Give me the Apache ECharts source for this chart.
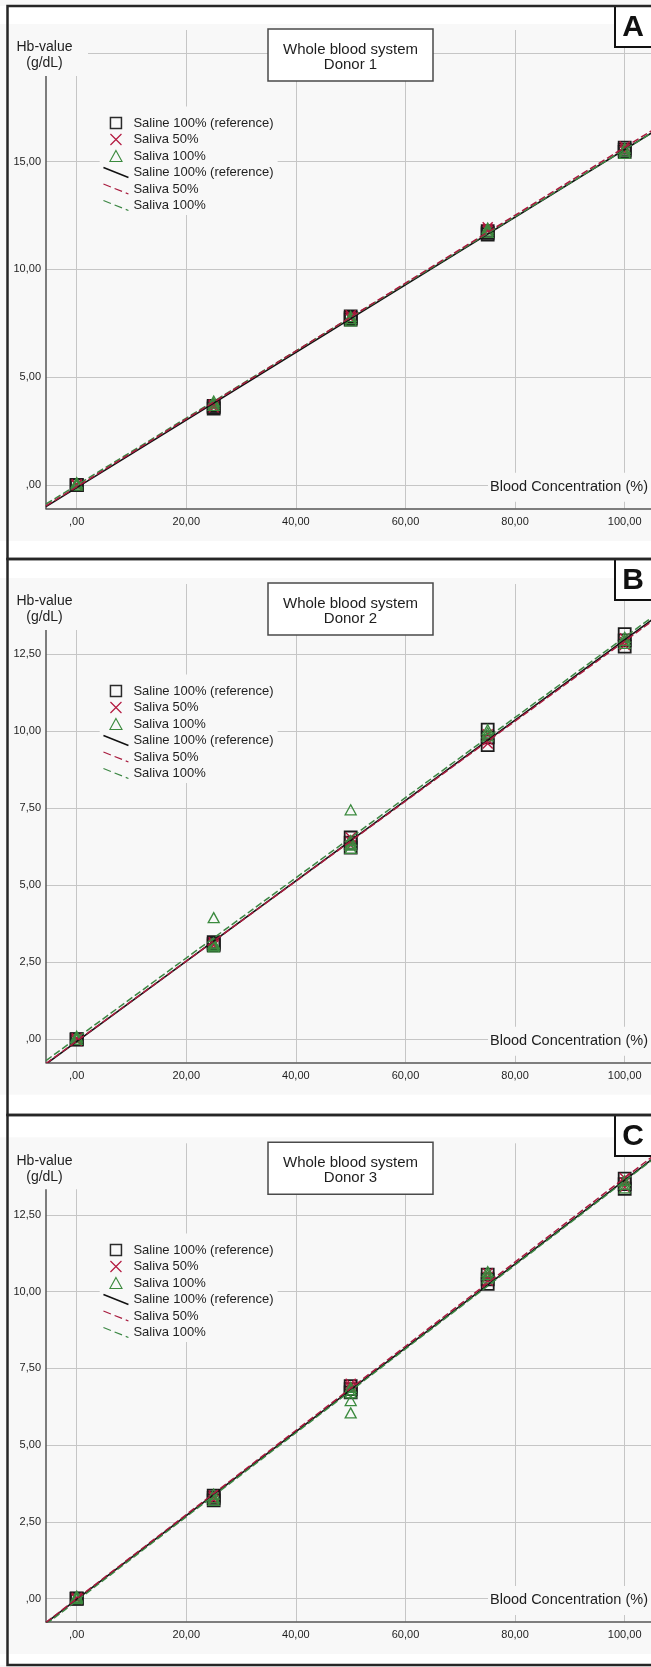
<!DOCTYPE html>
<html>
<head>
<meta charset="utf-8">
<script src="https://cdn.jsdelivr.net/npm/echarts@6/dist/echarts.min.js"></script>
<style>
html,body{margin:0;padding:0;background:#fff;}
#c{width:651px;height:1667px;}
</style>
</head>
<body>
<div id="c"></div>
<script>
// ---------------- DATA ----------------
const concentrations = [0, 25, 50, 75, 100];
const seriesNames = ['Saline 100% (reference)', 'Saliva 50%', 'Saliva 100%'];
const panelTitles = ['Whole blood system\nDonor 1', 'Whole blood system\nDonor 2', 'Whole blood system\nDonor 3'];
const panelLetters = ['A', 'B', 'C'];
const xAxisTitle = 'Blood Concentration (%)';
const yAxisTitle = ['Hb-value', '(g/dL)'];

// replicate Hb values (g/dL) for each concentration
const donor1Saline    = [[0, 0, 0], [3.55, 3.62, 3.68], [7.68, 7.75, 7.82], [11.62, 11.7, 11.78], [15.45, 15.55, 15.65]];
const donor1Saliva50  = [[0, 0.02, 0.04], [3.6, 3.68, 3.74], [7.72, 7.8, 7.88], [11.8, 11.88, 11.96], [15.48, 15.58, 15.7]];
const donor1Saliva100 = [[0, 0.06, 0.12], [3.7, 3.8, 3.9], [7.62, 7.72, 7.82], [11.72, 11.82, 11.92], [15.38, 15.5, 15.62]];

const donor2Saline    = [[0, 0, 0], [3.05, 3.1, 3.15], [6.22, 6.38, 6.55], [9.55, 9.8, 10.05], [12.75, 12.95, 13.15]];
const donor2Saliva50  = [[-0.05, 0, 0.03], [3.05, 3.1, 3.15], [6.3, 6.42, 6.55], [9.6, 9.72, 9.9], [12.8, 12.9, 13.02]];
const donor2Saliva100 = [[0, 0.05, 0.1], [3.0, 3.05, 3.1, 3.12, 3.95], [6.2, 6.3, 6.35, 6.45, 7.45], [9.85, 9.95, 10.05], [12.85, 12.95, 13.05]];

const donor3Saline    = [[0, 0, 0], [3.2, 3.28, 3.35], [6.72, 6.82, 6.92], [10.25, 10.4, 10.55], [13.35, 13.5, 13.68]];
const donor3Saliva50  = [[-0.02, 0, 0.03], [3.22, 3.3, 3.36], [6.85, 6.92, 7.0], [10.35, 10.48, 10.6], [13.4, 13.55, 13.7]];
const donor3Saliva100 = [[0, 0.04, 0.08], [3.2, 3.28, 3.4], [6.05, 6.45, 6.7, 6.8, 6.88], [10.45, 10.55, 10.65], [13.38, 13.5, 13.62]];

// axis ticks
const xTickValues = [0, 20, 40, 60, 80, 100];
const xTickLabels = [',00', '20,00', '40,00', '60,00', '80,00', '100,00'];
const yGridValuesA = [0, 5, 10, 15, 20];
const yTickValuesA = [0, 5, 10, 15];
const yTickLabelsA = [',00', '5,00', '10,00', '15,00'];
const yGridValuesBC = [0, 2.5, 5, 7.5, 10, 12.5];
const yTickValuesBC = [0, 2.5, 5, 7.5, 10, 12.5];
const yTickLabelsBC = [',00', '2,50', '5,00', '7,50', '10,00', '12,50'];

// ---------------- LAYOUT / STYLE ----------------
const FONT = '"Liberation Sans", Arial, Helvetica, sans-serif';
const BG = '#f8f8f8';
const GRIDC = '#c6c6c6';
const AXISC = '#555555';
const TXT = '#1e1e1e';
const X_MIN = -5.6, X_MAX = 106;
const PX_PER_X = 5.48;
const GRID_LEFT = 46;
const markerColors = ['#1c1c1c', '#b3183f', '#3b8a3e'];
const lineColors = ['#111111', '#a81b3e', '#3c8744'];
const SQ_PATH = 'path://M0,0L11,0L11,11L0,11Z';
const X_PATH = 'path://M0,0L10,10M0,10L10,0';
const TRI_PATH = 'path://M5.5,0L11,10L0,10Z';
const LINE_ICON = 'path://M0,0L25,10';

const panels = [
  { data: [donor1Saline, donor1Saliva50, donor1Saliva100], yMin: -1.08, yMax: 21.1,
    yGrid: yGridValuesA, yTicks: yTickValuesA, yLabels: yTickLabelsA,
    borderTop: 6, borderBottom: 559, gridTop: 30, gridBottom: 508.5, y0: 485.3, legendRow1: 123 },
  { data: [donor2Saline, donor2Saliva50, donor2Saliva100], yMin: -0.747, yMax: 14.78,
    yGrid: yGridValuesBC, yTicks: yTickValuesBC, yLabels: yTickLabelsBC,
    borderTop: 559, borderBottom: 1115, gridTop: 584, gridBottom: 1062.3, y0: 1039.3, legendRow1: 691 },
  { data: [donor3Saline, donor3Saliva50, donor3Saliva100], yMin: -0.749, yMax: 14.83,
    yGrid: yGridValuesBC, yTicks: yTickValuesBC, yLabels: yTickLabelsBC,
    borderTop: 1115, borderBottom: 1665, gridTop: 1143.3, gridBottom: 1621.6, y0: 1598.6, legendRow1: 1250 }
];

function labelFor(values, labels) {
  return function (v) {
    for (let i = 0; i < values.length; i++) if (Math.abs(values[i] - v) < 1e-9) return labels[i];
    return '';
  };
}
function toPoints(groups) {
  const pts = [];
  groups.forEach((reps, i) => reps.forEach(v => pts.push([concentrations[i], v])));
  return pts;
}
function linearFit(pts) {
  const n = pts.length;
  let sx = 0, sy = 0, sxx = 0, sxy = 0;
  pts.forEach(p => { sx += p[0]; sy += p[1]; sxx += p[0] * p[0]; sxy += p[0] * p[1]; });
  const b = (n * sxy - sx * sy) / (n * sxx - sx * sx);
  const a = (sy - b * sx) / n;
  return { a, b };
}

const grids = [], xAxes = [], yAxes = [], series = [], legends = [], graphics = [];

panels.forEach((p, pi) => {
  grids.push({ left: GRID_LEFT, top: p.gridTop, width: (X_MAX - X_MIN) * PX_PER_X,
    height: p.gridBottom - p.gridTop, outerBoundsMode: 'none', containLabel: false });
  xAxes.push({
    gridIndex: pi, type: 'value', min: X_MIN, max: X_MAX,
    axisLine: { show: true, onZero: false, lineStyle: { color: AXISC, width: 1.5 } },
    axisTick: { show: false, customValues: xTickValues },
    axisLabel: { customValues: xTickValues, formatter: labelFor(xTickValues, xTickLabels), margin: 8,
      fontSize: 11, color: TXT, fontFamily: FONT },
    splitLine: { show: true, lineStyle: { color: GRIDC, width: 1 } }
  });
  yAxes.push({
    gridIndex: pi, type: 'value', min: p.yMin, max: p.yMax,
    axisLine: { show: true, onZero: false, lineStyle: { color: AXISC, width: 1.5 } },
    axisTick: { show: false, customValues: p.yGrid },
    axisLabel: { customValues: p.yTicks, formatter: labelFor(p.yTicks, p.yLabels), margin: 5,
      fontSize: 11, color: TXT, fontFamily: FONT },
    splitLine: { show: true, lineStyle: { color: GRIDC, width: 1 } }
  });

  const symbols = ['rect', X_PATH, TRI_PATH];
  const sizes = [12, 10, [11, 10]];
  const bws = [1.8, 1.4, 1.3];
  p.data.forEach((groups, si) => {
    series.push({
      type: 'scatter', name: seriesNames[si], xAxisIndex: pi, yAxisIndex: pi,
      data: toPoints(groups), symbol: symbols[si], symbolSize: sizes[si], z: 3 + si,
      itemStyle: { color: 'rgba(0,0,0,0)', borderColor: markerColors[si], borderWidth: bws[si], opacity: 1 },
      silent: true
    });
  });
  const lineOrder = [0, 2, 1];
  lineOrder.forEach((si, k) => {
    const fit = linearFit(toPoints(p.data[si]));
    series.push({
      type: 'line', name: 'fit:' + seriesNames[si], xAxisIndex: pi, yAxisIndex: pi,
      data: [[X_MIN, fit.a + fit.b * X_MIN], [X_MAX, fit.a + fit.b * X_MAX]],
      showSymbol: false, symbol: 'none', clip: true, z: 10 + k, silent: true,
      lineStyle: { color: lineColors[si], width: si === 0 ? 1.6 : 1.5, type: si === 0 ? 'solid' : [7, 3] }
    });
  });

  const padT = 10, padB = 3, padL = 3, padR = 4;
  legends.push({
    orient: 'vertical', left: 102.7 - padL, top: p.legendRow1 - 6.5 - padT,
    padding: [padT, padR, padB, padL], backgroundColor: BG,
    itemWidth: 25, itemHeight: 11, itemGap: 3.5, z: 20, selectedMode: false, symbolKeepAspect: true,
    textStyle: { fontFamily: FONT, fontSize: 13, color: TXT, lineHeight: 13 },
    formatter: n => n.replace(/^fit:/, ''),
    data: [
      { name: seriesNames[0], icon: SQ_PATH, itemStyle: { color: 'rgba(0,0,0,0)', borderColor: '#2a2a2a', borderWidth: 1.5 } },
      { name: seriesNames[1], icon: X_PATH, itemStyle: { color: 'rgba(0,0,0,0)', borderColor: markerColors[1], borderWidth: 1.2 } },
      { name: seriesNames[2], icon: TRI_PATH, itemStyle: { color: 'rgba(0,0,0,0)', borderColor: markerColors[2], borderWidth: 1.1 } },
      { name: 'fit:' + seriesNames[0], icon: LINE_ICON, itemStyle: { color: 'rgba(0,0,0,0)', borderColor: lineColors[0], borderWidth: 1.5 } },
      { name: 'fit:' + seriesNames[1], icon: LINE_ICON, itemStyle: { color: 'rgba(0,0,0,0)', borderColor: lineColors[1], borderWidth: 1.2, borderType: [8, 4] } },
      { name: 'fit:' + seriesNames[2], icon: LINE_ICON, itemStyle: { color: 'rgba(0,0,0,0)', borderColor: lineColors[2], borderWidth: 1.2, borderType: [8, 4] } }
    ]
  });

  // decorations
  const gt = p.gridTop;
  graphics.push({ type: 'rect', z: 1, silent: true, shape: { x: 0, y: p.borderTop, width: 651, height: gt - 6 - p.borderTop }, style: { fill: '#ffffff' } });
  graphics.push({ type: 'rect', z: 1, silent: true, shape: { x: 0, y: p.gridBottom + 32.5, width: 651, height: p.borderBottom - p.gridBottom - 32.5 }, style: { fill: '#ffffff' } });
  // y axis title
  graphics.push({ type: 'rect', z: 30, silent: true, shape: { x: 9, y: gt - 3, width: 79, height: 49 }, style: { fill: BG } });
  graphics.push({ type: 'text', z: 31, silent: true, x: 44.5, y: gt + 17.5, style: { text: yAxisTitle[0], fontFamily: FONT, fontSize: 14, fill: TXT, align: 'center', verticalAlign: 'middle' } });
  graphics.push({ type: 'text', z: 31, silent: true, x: 44.5, y: gt + 33.5, style: { text: yAxisTitle[1], fontFamily: FONT, fontSize: 14, fill: TXT, align: 'center', verticalAlign: 'middle' } });
  // x axis title
  graphics.push({ type: 'rect', z: 30, silent: true, shape: { x: 488, y: p.y0 - 12.5, width: 170, height: 29 }, style: { fill: BG } });
  graphics.push({ type: 'text', z: 31, silent: true, x: 648, y: p.y0 + 1.2, style: { text: xAxisTitle, fontFamily: FONT, fontSize: 14.5, fill: TXT, align: 'right', verticalAlign: 'middle' } });
  // title box
  const tl = panelTitles[pi].split('\n');
  graphics.push({ type: 'rect', z: 40, silent: true, shape: { x: 268, y: gt - 1, width: 165, height: 52 }, style: { fill: '#ffffff', stroke: '#4a4a4a', lineWidth: 1.5 } });
  graphics.push({ type: 'text', z: 41, silent: true, x: 350.5, y: gt + 20, style: { text: tl[0], fontFamily: FONT, fontSize: 15, fill: TXT, align: 'center', verticalAlign: 'middle' } });
  graphics.push({ type: 'text', z: 41, silent: true, x: 350.5, y: gt + 34.5, style: { text: tl[1], fontFamily: FONT, fontSize: 15, fill: TXT, align: 'center', verticalAlign: 'middle' } });
  // panel letter box
  graphics.push({ type: 'rect', z: 50, silent: true, shape: { x: 615, y: p.borderTop, width: 60, height: 41 }, style: { fill: '#ffffff', stroke: '#111111', lineWidth: 2 } });
  graphics.push({ type: 'text', z: 51, silent: true, x: 633, y: p.borderTop + 21.5, style: { text: panelLetters[pi], fontFamily: FONT, fontSize: 30, fontWeight: 'bold', fill: '#111111', align: 'center', verticalAlign: 'middle' } });
  // panel border
  graphics.push({ type: 'rect', z: 60, silent: true, shape: { x: 7.5, y: p.borderTop, width: 700, height: p.borderBottom - p.borderTop }, style: { fill: 'none', stroke: '#262626', lineWidth: 2.5 } });
});

const chart = echarts.init(document.getElementById('c'), null, { renderer: 'canvas', width: 651, height: 1667 });
chart.setOption({
  animation: false,
  backgroundColor: BG,
  grid: grids,
  xAxis: xAxes,
  yAxis: yAxes,
  legend: legends,
  series: series,
  graphic: { elements: graphics }
});
</script>
</body>
</html>
